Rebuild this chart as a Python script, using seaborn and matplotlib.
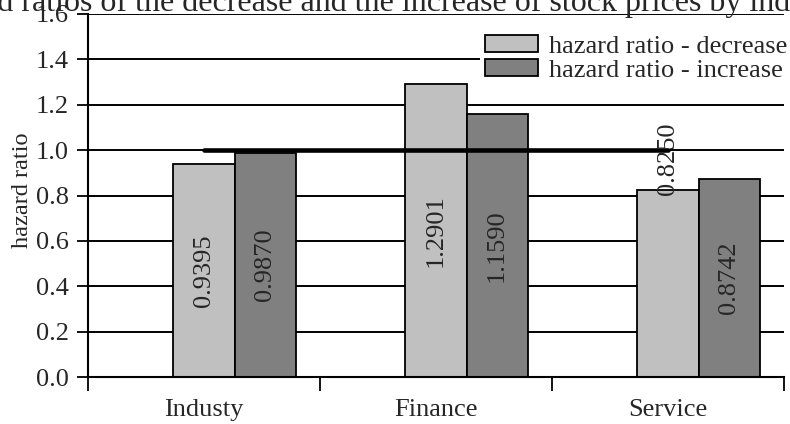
import matplotlib
matplotlib.use("Agg")
import matplotlib.pyplot as plt
import seaborn as sns
import pandas as pd
import numpy as np

# ---- data ----
categories = ["Industy", "Finance", "Service"]
decrease = [0.9395, 1.2901, 0.8250]
increase = [0.9870, 1.1590, 0.8742]
reference_line = [1.0, 1.0, 1.0]
series_names = ["hazard ratio - decrease", "hazard ratio - increase"]
y_ticks = [0.0, 0.2, 0.4, 0.6, 0.8, 1.0, 1.2, 1.4, 1.6]
y_label = "hazard ratio"
title = "Hazard ratios of the decrease and the increase of stock prices by industry"

sns.set_theme(style="white")
plt.rcParams['font.family'] = ['Liberation Serif', 'DejaVu Serif']
FS = 19

df = pd.DataFrame({
    "category": categories * 2,
    "series": [series_names[0]] * len(categories) + [series_names[1]] * len(categories),
    "value": decrease + increase,
})

W, H = 790, 424
fig = plt.figure(figsize=(W / 100, H / 100), dpi=100)
ax = fig.add_axes([88 / W, 1 - 377 / H, (784 - 88) / W, (377 - 14) / H])
ax.set_axisbelow(True)
ax.yaxis.grid(True, color="black", linewidth=1.4)
ax.xaxis.grid(False)

blank = " "
sns.barplot(
    data=df, x="category", y="value", hue="series",
    order=categories, hue_order=[blank] + series_names,
    palette={blank: "white", series_names[0]: "#c0c0c0", series_names[1]: "#808080"},
    width=0.79, edgecolor="black", linewidth=1.3, errorbar=None,
    legend=False, ax=ax, zorder=2,
)

sns.lineplot(x=categories, y=reference_line, color="black", linewidth=3.3,
             ax=ax, zorder=3, legend=False)

# identify containers
c_dec = c_inc = None
for c in ax.containers:
    vals = np.asarray(c.datavalues)
    if len(vals) == 3 and np.allclose(vals, decrease):
        c_dec = c
    elif len(vals) == 3 and np.allclose(vals, increase):
        c_inc = c

ax.bar_label(c_dec, labels=[f"{v:.4f}" if i < 2 else "" for i, v in enumerate(decrease)],
             label_type="center", rotation=90, fontsize=FS)
ax.bar_label(c_dec, labels=["" if i < 2 else f"{v:.4f}" for i, v in enumerate(decrease)],
             label_type="edge", rotation=90, fontsize=FS, padding=-4)
ax.bar_label(c_inc, labels=[f"{v:.4f}" for v in increase],
             label_type="center", rotation=90, fontsize=FS)

ax.set_ylim(0, 1.6)
ax.set_yticks(y_ticks)
ax.set_yticklabels([f"{t:.1f}" for t in y_ticks], fontsize=FS)
ax.set_xlim(-0.5, len(categories) - 0.5)
ax.set_xticks(np.arange(-0.5, len(categories), 1.0))
ax.set_xticklabels([])
ax.set_xticks(np.arange(len(categories)), minor=True)
ax.set_xticklabels(categories, minor=True, fontsize=FS)
ax.tick_params(axis="x", which="major", length=10, width=1.3, color="black",
               direction="out", bottom=True)
ax.tick_params(axis="x", which="minor", length=0, pad=15.5, bottom=True)
ax.tick_params(axis="y", length=8, width=1.3, color="black", direction="out",
               pad=6, left=True)
ax.set_xlabel("")
ax.set_ylabel(y_label, fontsize=17.5)
ax.yaxis.set_label_coords(-0.079, 0.515)

for s in ["top", "right"]:
    ax.spines[s].set_visible(False)
for s in ["left", "bottom"]:
    ax.spines[s].set_color("black")
    ax.spines[s].set_linewidth(1.5)

leg = ax.legend(handles=[c_dec, c_inc], labels=series_names,
                loc="upper left", bbox_to_anchor=(480 / W, 1 - 30 / H),
                bbox_transform=fig.transFigure, fontsize=FS,
                frameon=True, facecolor="white", edgecolor="none", framealpha=1,
                fancybox=False, borderpad=0.2, borderaxespad=0,
                handlelength=2.0, handleheight=0.6, handletextpad=0.4,
                labelspacing=0.05)

fig.text(388 / W, 1 - 11 / H, title, ha="center", va="baseline", fontsize=23)

fig.savefig("out.png", dpi=100)
